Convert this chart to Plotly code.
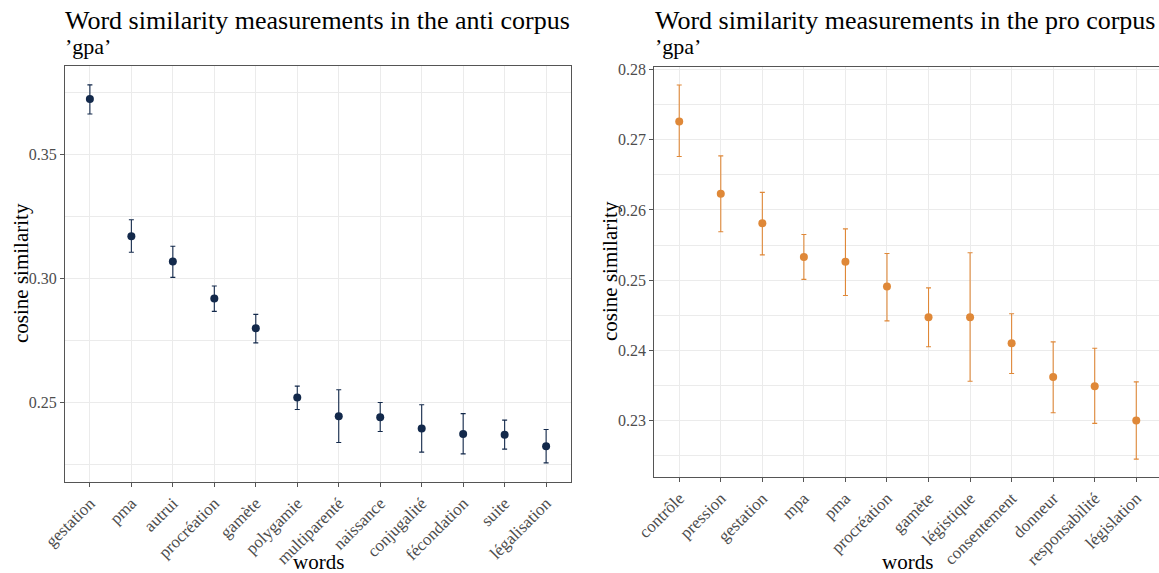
import plotly.graph_objects as go

W, H = 1159, 573

# ---- data: anti corpus ----
anti_words = ["gestation", "pma", "autrui", "procréation", "gamète", "polygamie",
              "multiparenté", "naissance", "conjugalité", "fécondation", "suite", "légalisation"]
anti_mean = [0.3723, 0.3170, 0.3069, 0.2920, 0.2800, 0.2521,
             0.2446, 0.2442, 0.2396, 0.2374, 0.2371, 0.2325]
anti_upper = [0.3780, 0.3237, 0.3130, 0.2970, 0.2856, 0.2567,
              0.2552, 0.2501, 0.2492, 0.2456, 0.2430, 0.2392]
anti_lower = [0.3663, 0.3106, 0.3005, 0.2868, 0.2741, 0.2473,
              0.2340, 0.2384, 0.2301, 0.2294, 0.2313, 0.2258]

# ---- data: pro corpus ----
pro_words = ["contrôle", "pression", "gestation", "mpa", "pma", "procréation",
             "gamète", "légistique", "consentement", "donneur", "responsabilité", "législation"]
pro_mean = [0.2726, 0.2623, 0.2581, 0.2533, 0.2526, 0.2491,
            0.2447, 0.2447, 0.2410, 0.2362, 0.2349, 0.2300]
pro_upper = [0.2778, 0.2677, 0.2625, 0.2565, 0.2573, 0.2538,
             0.2489, 0.2539, 0.2452, 0.2412, 0.2403, 0.2355]
pro_lower = [0.2676, 0.2569, 0.2536, 0.2501, 0.2478, 0.2442,
             0.2405, 0.2356, 0.2367, 0.2311, 0.2296, 0.2245]

anti_y_ticks = [0.25, 0.30, 0.35]
pro_y_ticks = [0.23, 0.24, 0.25, 0.26, 0.27, 0.28]

NAVY = "#13294b"
ORANGE = "#df8838"
FONT = "Liberation Serif"
TICKGREY = "#4d4d4d"
GRID = "#ebebeb"
BORDER = "#555555"

fig = go.Figure()

def add_series(words, mean, upper, lower, color, xa, ya):
    plus = [u - m for u, m in zip(upper, mean)]
    minus = [m - l for m, l in zip(mean, lower)]
    fig.add_trace(go.Scatter(
        x=words, y=mean, mode="markers", xaxis=xa, yaxis=ya,
        marker=dict(color=color, size=8),
        error_y=dict(type="data", symmetric=False, array=plus, arrayminus=minus,
                     color=color, thickness=1.1, width=2.5),
        showlegend=False, hoverinfo="x+y"))

add_series(anti_words, anti_mean, anti_upper, anti_lower, NAVY, "x", "y")
add_series(pro_words, pro_mean, pro_upper, pro_lower, ORANGE, "x2", "y2")

def fx(px):
    return px / W

def fy(py):
    return 1 - py / H

xcommon = dict(type="category", showgrid=True, gridcolor=GRID, gridwidth=1,
               showline=True, linecolor=BORDER, linewidth=1, mirror=True,
               ticks="outside", ticklen=4, tickcolor=BORDER, tickangle=-45,
               tickfont=dict(family=FONT, size=17, color=TICKGREY), zeroline=False,
               automargin=False)
ycommon = dict(showgrid=True, gridcolor=GRID, gridwidth=1,
               showline=True, linecolor=BORDER, linewidth=1, mirror=True,
               ticks="outside", ticklen=4, tickcolor=BORDER,
               tickfont=dict(family=FONT, size=16, color=TICKGREY), zeroline=False,
               automargin=False)

fig.update_layout(
    width=W, height=H, margin=dict(l=0, r=0, t=0, b=0, autoexpand=False),
    paper_bgcolor="white", plot_bgcolor="white",
    font=dict(family=FONT, color="black"),
    xaxis=dict(xcommon, domain=[fx(65), fx(571)], range=[-0.6, 11.6], anchor="y",
               categoryorder="array", categoryarray=anti_words),
    yaxis=dict(ycommon, domain=[fy(481.7), fy(66)], range=[0.2182, 0.3856], anchor="x",
               tickvals=anti_y_ticks, ticktext=[f"{v:.2f}" for v in anti_y_ticks],
               minor=dict(tickvals=[0.225, 0.275, 0.325, 0.375], showgrid=True,
                          gridcolor=GRID, gridwidth=0.6, ticks="")),
    xaxis2=dict(xcommon, domain=[fx(654.3), 1.0], range=[-0.6, 11.547], anchor="y2",
                categoryorder="array", categoryarray=pro_words),
    yaxis2=dict(ycommon, domain=[fy(476.7), fy(66.7)], range=[0.2220, 0.2804], anchor="x2",
                tickvals=pro_y_ticks, ticktext=[f"{v:.2f}" for v in pro_y_ticks],
                minor=dict(tickvals=[0.225, 0.235, 0.245, 0.255, 0.265, 0.275], showgrid=True,
                           gridcolor=GRID, gridwidth=0.6, ticks="")),
)

ann = []
def text(x, y, s, size, angle=0, xanchor="left", yanchor="middle"):
    ann.append(dict(x=fx(x), y=fy(y), xref="paper", yref="paper", text=s, showarrow=False,
                    font=dict(family=FONT, size=size, color="black"), textangle=angle,
                    xanchor=xanchor, yanchor=yanchor))

text(63, 21, "Word similarity measurements in the anti corpus", 26)
text(63, 46, "’gpa’", 22)
text(653, 21, "Word similarity measurements in the pro corpus", 26)
text(653, 46, "’gpa’", 22)
text(21, 273, "cosine similarity", 21, angle=-90, xanchor="center")
text(610, 271, "cosine similarity", 21, angle=-90, xanchor="center")
text(318, 562, "words", 21, xanchor="center")
text(907, 562, "words", 21, xanchor="center")
fig.update_layout(annotations=ann)

fig.write_html("out.html", config={"displayModeBar": False},
               post_script="document.body.style.margin='0';document.body.style.overflow='hidden';")
